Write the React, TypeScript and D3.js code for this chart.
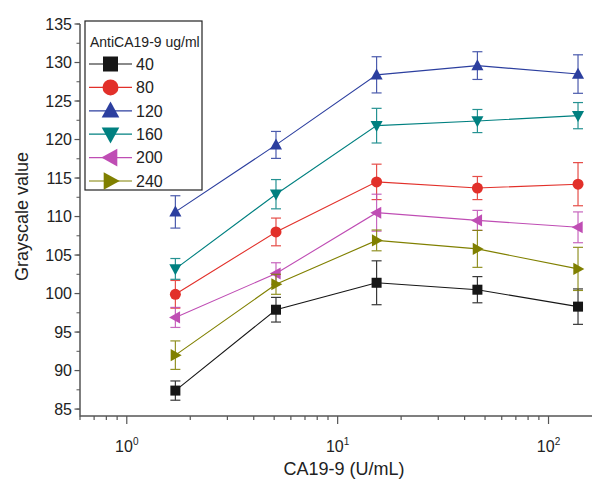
import React, { useRef, useEffect } from "react";
import * as d3 from "d3";

// CA19-9 concentrations (U/mL)
const concentrations = [1.7, 5.1, 15.3, 46, 138];

// grayscale values per antibody concentration
const g40 = [87.4, 97.9, 101.4, 100.5, 98.3];
const e40 = [1.25, 1.6, 2.85, 1.7, 2.3];
const g80 = [99.9, 108.0, 114.5, 113.7, 114.2];
const e80 = [1.8, 1.8, 2.3, 1.5, 2.8];
const g120 = [110.6, 119.3, 128.4, 129.6, 128.5];
const e120 = [2.1, 1.75, 2.35, 1.8, 2.5];
const g160 = [103.2, 112.9, 121.8, 122.4, 123.1];
const e160 = [1.35, 1.9, 2.25, 1.5, 1.7];
const g200 = [96.9, 102.6, 110.5, 109.5, 108.6];
const e200 = [1.3, 1.4, 2.4, 1.3, 2.0];
const g240 = [92.0, 101.2, 106.9, 105.8, 103.2];
const e240 = [1.85, 1.3, 1.35, 2.4, 2.8];

const seriesNames = ["40", "80", "120", "160", "200", "240"];
const seriesColors = ["#161616", "#e2302a", "#2c3f9f", "#008080", "#bf4db4", "#808000"];
const seriesShapes = ["square", "circle", "up", "down", "left", "right"];
const yTicks = [85, 90, 95, 100, 105, 110, 115, 120, 125, 130, 135];

const legendTitle = "AntiCA19-9 ug/ml";

const W = 592;
const H = 481;
const FONT = "'Liberation Sans', Arial, sans-serif";

function Marker({ shape, x, y, s, color }) {
  const h = s / 2;
  if (shape === "square") return <rect x={x - h} y={y - h} width={s} height={s} fill={color} />;
  if (shape === "circle") return <circle cx={x} cy={y} r={h} fill={color} />;
  let pts = "";
  if (shape === "up") pts = `${x},${y - h * 1.15} ${x - h * 1.1},${y + h * 0.85} ${x + h * 1.1},${y + h * 0.85}`;
  if (shape === "down") pts = `${x},${y + h * 1.15} ${x - h * 1.1},${y - h * 0.85} ${x + h * 1.1},${y - h * 0.85}`;
  if (shape === "left") pts = `${x - h * 1.15},${y} ${x + h * 0.85},${y - h * 1.1} ${x + h * 0.85},${y + h * 1.1}`;
  if (shape === "right") pts = `${x + h * 1.15},${y} ${x - h * 0.85},${y - h * 1.1} ${x - h * 0.85},${y + h * 1.1}`;
  return <polygon points={pts} fill={color} />;
}

export default function App() {
  const yAxisRef = useRef(null);

  const values = [g40, g80, g120, g160, g200, g240];
  const errors = [e40, e80, e120, e160, e200, e240];

  const xScale = d3.scaleLog().domain([0.6, 200]).range([80, 612]);
  const yScale = d3.scaleLinear().domain([84.1, 135]).range([416, 24]);

  useEffect(() => {
    const g = d3.select(yAxisRef.current);
    g.selectAll("*").remove();
    const minor = d3.range(85, 135.1, 2.5);
    g.selectAll(".minor")
      .data(minor)
      .join("line")
      .attr("x1", 76.5)
      .attr("x2", 80)
      .attr("y1", (d) => yScale(d))
      .attr("y2", (d) => yScale(d))
      .attr("stroke", "#555")
      .attr("stroke-width", 1);
    g.selectAll(".major")
      .data(yTicks)
      .join("line")
      .attr("x1", 74.5)
      .attr("x2", 80)
      .attr("y1", (d) => yScale(d))
      .attr("y2", (d) => yScale(d))
      .attr("stroke", "#555")
      .attr("stroke-width", 1.2);
    g.selectAll("text")
      .data(yTicks)
      .join("text")
      .attr("x", 72)
      .attr("y", (d) => yScale(d))
      .attr("dy", "0.35em")
      .attr("text-anchor", "end")
      .attr("font-size", 16)
      .attr("font-family", FONT)
      .attr("fill", "#222")
      .text((d) => d);
    g.append("line")
      .attr("x1", 80)
      .attr("x2", 80)
      .attr("y1", 24)
      .attr("y2", 416.5)
      .attr("stroke", "#555")
      .attr("stroke-width", 1.5);
  }, []);

  const xTicks = xScale.ticks().filter((t) => xScale(t) <= W);
  const isMajor = (t) => Math.abs(Math.log10(t) - Math.round(Math.log10(t))) < 1e-9;

  const line = d3
    .line()
    .x((d) => xScale(d[0]))
    .y((d) => yScale(d[1]));

  const legendX = 85;
  const legendY = 21;
  const rowY = (i) => 64 + i * 23.4;

  return (
    <svg width={W} height={H} style={{ display: "block", position: "absolute", left: 0, top: 0 }}>
      <rect width={W} height={H} fill="#fff" />
      {/* x axis */}
      <line x1={80} x2={W} y1={416} y2={416} stroke="#555" strokeWidth={1.5} />
      {xTicks.map((t, i) => (
        <line
          key={i}
          x1={xScale(t)}
          x2={xScale(t)}
          y1={416}
          y2={isMajor(t) ? 424 : 420}
          stroke="#555"
          strokeWidth={1.2}
        />
      ))}
      {xTicks.filter(isMajor).map((t, i) => (
        <text
          key={i}
          x={xScale(t)}
          y={452}
          textAnchor="middle"
          fontSize={16}
          fontFamily={FONT}
          fill="#222"
        >
          10
          <tspan dy={-7} fontSize={10}>
            {Math.round(Math.log10(t))}
          </tspan>
        </text>
      ))}
      <g ref={yAxisRef} />
      <text x={W / 2 + 48} y={475} textAnchor="middle" fontSize={18} fontFamily={FONT} fill="#222">
        CA19-9 (U/mL)
      </text>
      <text
        transform={`translate(28,${yScale(110)}) rotate(-90)`}
        textAnchor="middle"
        fontSize={18}
        fontFamily={FONT}
        fill="#222"
      >
        Grayscale value
      </text>

      {/* series */}
      {values.map((vals, si) => {
        const color = seriesColors[si];
        const pts = concentrations.map((c, i) => [c, vals[i]]);
        return (
          <g key={si}>
            <path d={line(pts)} fill="none" stroke={color} strokeWidth={1.1} />
            {pts.map((p, i) => {
              const x = xScale(p[0]);
              const y0 = yScale(p[1] - errors[si][i]);
              const y1 = yScale(p[1] + errors[si][i]);
              return (
                <g key={i} stroke={color} strokeWidth={1.2} opacity={0.85}>
                  <line x1={x} x2={x} y1={y0} y2={y1} />
                  <line x1={x - 5} x2={x + 5} y1={y0} y2={y0} />
                  <line x1={x - 5} x2={x + 5} y1={y1} y2={y1} />
                </g>
              );
            })}
            {pts.map((p, i) => (
              <Marker
                key={i}
                shape={seriesShapes[si]}
                x={xScale(p[0])}
                y={yScale(p[1])}
                s={seriesShapes[si] === "square" ? 10 : 11}
                color={color}
              />
            ))}
          </g>
        );
      })}

      {/* legend */}
      <rect x={legendX} y={legendY} width={117} height={169} fill="#fff" stroke="#222" strokeWidth={1.2} />
      <text x={90} y={47} fontSize={14} fontFamily={FONT} fill="#222">
        {legendTitle}
      </text>
      {seriesNames.map((n, i) => (
        <g key={n}>
          <line x1={89} x2={132} y1={rowY(i)} y2={rowY(i)} stroke={seriesColors[i]} strokeWidth={1.2} />
          <Marker shape={seriesShapes[i]} x={110.5} y={rowY(i)} s={seriesShapes[i] === "square" ? 15 : 16} color={seriesColors[i]} />
          <text x={136} y={rowY(i)} dy="0.36em" fontSize={16} fontFamily={FONT} fill="#222">
            {n}
          </text>
        </g>
      ))}
    </svg>
  );
}
